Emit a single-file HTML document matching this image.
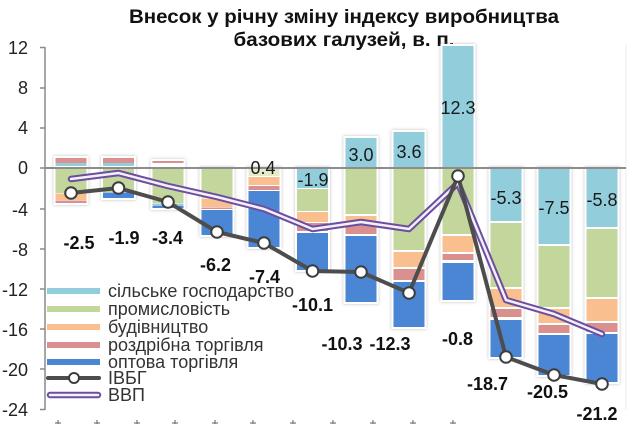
<!DOCTYPE html>
<html><head><meta charset="utf-8"><style>
html,body{margin:0;padding:0;background:#fff;}
svg{display:block;}
text{font-family:"Liberation Sans","Noto Sans CJK SC",sans-serif;}
</style></head><body>
<svg width="636" height="424" viewBox="0 0 636 424" xmlns="http://www.w3.org/2000/svg">
<defs>
<filter id="sh" x="-30%" y="-10%" width="160%" height="120%">
<feDropShadow dx="0" dy="0" stdDeviation="1.6" flood-color="#888" flood-opacity="0.55"/>
</filter>
</defs>
<rect width="636" height="424" fill="#fff"/>
<!-- title -->
<text x="344" y="23" font-size="19" font-weight="bold" fill="#111" text-anchor="middle" textLength="430" lengthAdjust="spacingAndGlyphs">Внесок у річну зміну індексу виробництва</text>
<text x="344" y="46" font-size="19" font-weight="bold" fill="#111" text-anchor="middle" textLength="221" lengthAdjust="spacingAndGlyphs">базових галузей, в. п.</text>

<!-- faint right border -->
<line x1="626" y1="45" x2="626" y2="410" stroke="#eee" stroke-width="1"/>

<!-- y axis -->
<line x1="45" y1="47" x2="45" y2="410" stroke="#8a8a8a" stroke-width="1.5"/>
<g stroke="#8a8a8a" stroke-width="1.5">
<line x1="40" y1="47.5" x2="45" y2="47.5"/>
<line x1="40" y1="88" x2="45" y2="88"/>
<line x1="40" y1="128" x2="45" y2="128"/>
<line x1="40" y1="168" x2="45" y2="168"/>
<line x1="40" y1="209" x2="45" y2="209"/>
<line x1="40" y1="249" x2="45" y2="249"/>
<line x1="40" y1="289" x2="45" y2="289"/>
<line x1="40" y1="329" x2="45" y2="329"/>
<line x1="40" y1="369" x2="45" y2="369"/>
<line x1="40" y1="409.5" x2="45" y2="409.5"/>
</g>
<g font-size="18" fill="#222" text-anchor="end">
<text x="28" y="54">12</text>
<text x="28" y="94">8</text>
<text x="28" y="134">4</text>
<text x="28" y="174">0</text>
<text x="28" y="216">-4</text>
<text x="28" y="256">-8</text>
<text x="28" y="296">-12</text>
<text x="28" y="336">-16</text>
<text x="28" y="376">-20</text>
<text x="28" y="416">-24</text>
</g>

<!-- bar backgrounds (white outline + shadow) -->
<g fill="#fff" filter="url(#sh)">
<rect x="53.5" y="156" width="35" height="49"/>
<rect x="101" y="156" width="35" height="44"/>
<rect x="150.5" y="159" width="35" height="51"/>
<rect x="199.5" y="167" width="35" height="70"/>
<rect x="246.5" y="167" width="35" height="82"/>
<rect x="295" y="167" width="35" height="105"/>
<rect x="343.5" y="136" width="35" height="168"/>
<rect x="391.5" y="130" width="35" height="199"/>
<rect x="440.5" y="44" width="35" height="258"/>
<rect x="488.5" y="167" width="35" height="192"/>
<rect x="536.5" y="167" width="35" height="210"/>
<rect x="584.5" y="167" width="35" height="217"/>
</g>

<!-- bar segments -->
<g>
<!-- bar1 -->
<rect x="55.5" y="158" width="31" height="5" fill="#D9908F"/>
<rect x="55.5" y="163" width="31" height="3" fill="#92CDDC"/>
<rect x="55.5" y="169" width="31" height="24" fill="#C3D69B"/>
<rect x="55.5" y="193.5" width="31" height="6.5" fill="#F9BF8E"/>
<rect x="55.5" y="200.5" width="31" height="2.5" fill="#D9908F"/>
<!-- bar2 -->
<rect x="103" y="158" width="31" height="5" fill="#D9908F"/>
<rect x="103" y="163" width="31" height="3" fill="#92CDDC"/>
<rect x="103" y="169" width="31" height="23" fill="#C3D69B"/>
<rect x="103" y="192.5" width="31" height="5.5" fill="#4A86D4"/>
<!-- bar3 -->
<rect x="152.5" y="161" width="31" height="2" fill="#D9908F"/>
<rect x="152.5" y="169" width="31" height="34" fill="#C3D69B"/>
<rect x="152.5" y="203.5" width="31" height="1.5" fill="#92CDDC"/>
<rect x="152.5" y="205.5" width="31" height="2.5" fill="#4A86D4"/>
<!-- bar4 -->
<rect x="201.5" y="169" width="31" height="29" fill="#C3D69B"/>
<rect x="201.5" y="198.5" width="31" height="8.5" fill="#F9BF8E"/>
<rect x="201.5" y="207.5" width="31" height="1.5" fill="#D9908F"/>
<rect x="201.5" y="210" width="31" height="25" fill="#4A86D4"/>
<!-- bar5 -->
<rect x="248.5" y="169" width="31" height="7" fill="#E3EBC9"/>
<rect x="248.5" y="177" width="31" height="8" fill="#F9BF8E"/>
<rect x="248.5" y="186" width="31" height="4" fill="#D9908F"/>
<rect x="248.5" y="191" width="31" height="56" fill="#4A86D4"/>
<!-- bar6 -->
<rect x="297" y="169" width="31" height="19" fill="#92CDDC"/>
<rect x="297" y="189" width="31" height="22" fill="#C3D69B"/>
<rect x="297" y="212" width="31" height="10" fill="#F9BF8E"/>
<rect x="297" y="223" width="31" height="8" fill="#D9908F"/>
<rect x="297" y="233" width="31" height="37" fill="#4A86D4"/>
<!-- bar7 -->
<rect x="345.5" y="138" width="31" height="29" fill="#92CDDC"/>
<rect x="345.5" y="169" width="31" height="45" fill="#C3D69B"/>
<rect x="345.5" y="216" width="31" height="7" fill="#F9BF8E"/>
<rect x="345.5" y="224" width="31" height="10" fill="#D9908F"/>
<rect x="345.5" y="236" width="31" height="66" fill="#4A86D4"/>
<!-- bar8 -->
<rect x="393.5" y="132" width="31" height="35" fill="#92CDDC"/>
<rect x="393.5" y="169" width="31" height="81" fill="#C3D69B"/>
<rect x="393.5" y="252" width="31" height="15" fill="#F9BF8E"/>
<rect x="393.5" y="269" width="31" height="11" fill="#D9908F"/>
<rect x="393.5" y="282" width="31" height="45" fill="#4A86D4"/>
<!-- bar9 -->
<rect x="442.5" y="46" width="31" height="121" fill="#92CDDC"/>
<rect x="442.5" y="169" width="31" height="65" fill="#C3D69B"/>
<rect x="442.5" y="236" width="31" height="16" fill="#F9BF8E"/>
<rect x="442.5" y="254" width="31" height="6" fill="#D9908F"/>
<rect x="442.5" y="263" width="31" height="37" fill="#4A86D4"/>
<!-- bar10 -->
<rect x="490.5" y="169" width="31" height="52" fill="#92CDDC"/>
<rect x="490.5" y="223" width="31" height="64" fill="#C3D69B"/>
<rect x="490.5" y="289" width="31" height="18" fill="#F9BF8E"/>
<rect x="490.5" y="309" width="31" height="8" fill="#D9908F"/>
<rect x="490.5" y="320" width="31" height="37" fill="#4A86D4"/>
<!-- bar11 -->
<rect x="538.5" y="169" width="31" height="75" fill="#92CDDC"/>
<rect x="538.5" y="246" width="31" height="61" fill="#C3D69B"/>
<rect x="538.5" y="309" width="31" height="14" fill="#F9BF8E"/>
<rect x="538.5" y="325" width="31" height="8" fill="#D9908F"/>
<rect x="538.5" y="335" width="31" height="40" fill="#4A86D4"/>
<!-- bar12 -->
<rect x="586.5" y="169" width="31" height="58" fill="#92CDDC"/>
<rect x="586.5" y="229" width="31" height="68" fill="#C3D69B"/>
<rect x="586.5" y="299" width="31" height="22" fill="#F9BF8E"/>
<rect x="586.5" y="323" width="31" height="9" fill="#D9908F"/>
<rect x="586.5" y="334" width="31" height="48" fill="#4A86D4"/>
</g>

<!-- zero line -->
<line x1="45" y1="168" x2="626" y2="168" stroke="#8c8c8c" stroke-width="2"/>

<!-- in-bar labels -->
<g font-size="18" fill="#1a1a1a" text-anchor="middle">
<text x="263" y="174">0.4</text>
<text x="313" y="186">-1.9</text>
<text x="361" y="161">3.0</text>
<text x="409" y="158">3.6</text>
<text x="458" y="114">12.3</text>
<text x="506" y="204">-5.3</text>
<text x="554" y="214">-7.5</text>
<text x="602" y="206">-5.8</text>
</g>

<!-- ВВП line -->
<polyline points="71,179 118.5,173 168,186 217,197 264,209 312.5,229 361,222 409,229 458,183 506,300 554,314 602,334" fill="none" stroke="#6B4F9E" stroke-width="6.5" stroke-linejoin="round" stroke-linecap="round"/>
<polyline points="71,179 118.5,173 168,186 217,197 264,209 312.5,229 361,222 409,229 458,183 506,300 554,314 602,334" fill="none" stroke="#F4EFFA" stroke-width="2.5" stroke-linejoin="round" stroke-linecap="round"/>

<!-- ІВБГ line -->
<polyline points="71,193 118.5,188 168,202 217,232 264,243 312.5,271 361,272 409,293 458,176 506,357 554,375 602,384" fill="none" stroke="#4D4D4D" stroke-width="4" stroke-linejoin="round"/>
<g fill="#fff" stroke="#3d3d3d" stroke-width="2">
<circle cx="71" cy="193" r="5.8"/>
<circle cx="118.5" cy="188" r="5.8"/>
<circle cx="168" cy="202" r="5.8"/>
<circle cx="217" cy="232" r="5.8"/>
<circle cx="264" cy="243" r="5.8"/>
<circle cx="312.5" cy="271" r="5.8"/>
<circle cx="361" cy="272" r="5.8"/>
<circle cx="409" cy="293" r="5.8"/>
<circle cx="458" cy="176" r="5.8"/>
<circle cx="506" cy="357" r="5.8"/>
<circle cx="554" cy="375" r="5.8"/>
<circle cx="602" cy="384" r="5.8"/>
</g>

<!-- bold labels -->
<g font-size="18" font-weight="bold" fill="#111" text-anchor="middle">
<text x="79" y="249">-2.5</text>
<text x="124" y="244">-1.9</text>
<text x="167.5" y="244">-3.4</text>
<text x="215.5" y="271">-6.2</text>
<text x="264.5" y="283">-7.4</text>
<text x="312.5" y="311">-10.1</text>
<text x="342" y="350">-10.3</text>
<text x="390" y="350">-12.3</text>
<text x="457.5" y="345">-0.8</text>
<text x="487.5" y="390">-18.7</text>
<text x="547.5" y="398">-20.5</text>
<text x="597" y="420">-21.2</text>
</g>

<!-- legend -->
<g>
<rect x="47" y="288" width="53" height="6" fill="#92CDDC"/>
<rect x="47" y="306" width="53" height="6" fill="#C3D69B"/>
<rect x="47" y="324" width="53" height="6" fill="#F9BF8E"/>
<rect x="47" y="342" width="53" height="6" fill="#D9908F"/>
<rect x="47" y="359" width="53" height="6" fill="#4A86D4"/>
<line x1="48" y1="378" x2="99" y2="378" stroke="#4D4D4D" stroke-width="4" stroke-linecap="round"/>
<circle cx="74" cy="378" r="5" fill="#fff" stroke="#3d3d3d" stroke-width="2"/>
<line x1="50" y1="395" x2="98" y2="395" stroke="#6B4F9E" stroke-width="6.5" stroke-linecap="round"/>
<line x1="50" y1="395" x2="98" y2="395" stroke="#F4EFFA" stroke-width="2.5" stroke-linecap="round"/>
</g>
<g font-size="18" fill="#333">
<text x="108" y="297">сільське господарство</text>
<text x="108" y="315">промисловість</text>
<text x="108" y="333">будівництво</text>
<text x="108" y="351">роздрібна торгівля</text>
<text x="108" y="368">оптова торгівля</text>
<text x="108" y="384">ІВБГ</text>
<text x="108" y="401">ВВП</text>
</g>

<!-- cut-off x-axis label tops -->
<g stroke="#777" stroke-width="1.2">
<line x1="55" y1="423" x2="61" y2="423"/><line x1="58" y1="420" x2="58" y2="424"/>
<line x1="94" y1="423" x2="100" y2="423"/><line x1="97" y1="420" x2="97" y2="424"/>
<line x1="134" y1="423" x2="140" y2="423"/><line x1="137" y1="420" x2="137" y2="424"/>
<line x1="172" y1="423" x2="178" y2="423"/><line x1="175" y1="420" x2="175" y2="424"/>
<line x1="212" y1="423" x2="218" y2="423"/><line x1="215" y1="420" x2="215" y2="424"/>
<line x1="250" y1="423" x2="256" y2="423"/><line x1="253" y1="420" x2="253" y2="424"/>
<line x1="290" y1="423" x2="296" y2="423"/><line x1="293" y1="420" x2="293" y2="424"/>
<line x1="330" y1="423" x2="336" y2="423"/><line x1="333" y1="420" x2="333" y2="424"/>
<line x1="370" y1="423" x2="376" y2="423"/><line x1="373" y1="420" x2="373" y2="424"/>
<line x1="410" y1="423" x2="416" y2="423"/><line x1="413" y1="420" x2="413" y2="424"/>
<line x1="450" y1="423" x2="456" y2="423"/><line x1="453" y1="420" x2="453" y2="424"/>
</g>
</svg>
</body></html>
